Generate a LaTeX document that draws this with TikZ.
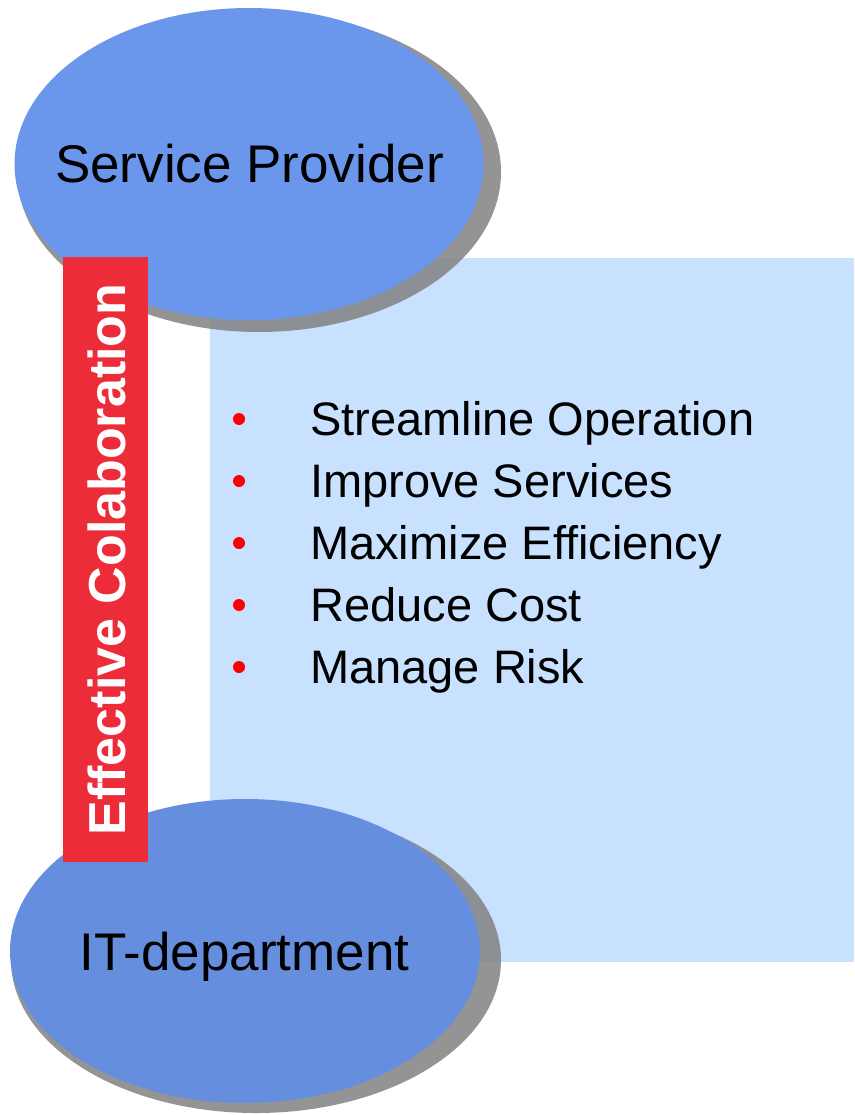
\documentclass[tikz,border=0pt]{standalone}
\usepackage{fontspec}
\setmainfont{Liberation Sans}
\usetikzlibrary{shapes.geometric}
\definecolor{ovalblue}{RGB}{106,151,236}
\definecolor{ovalblueb}{RGB}{102,142,222}
\definecolor{panelblue}{RGB}{199,225,255}
\definecolor{barred}{RGB}{237,44,58}
\definecolor{shadowgrey}{RGB}{130,130,130}
\begin{document}
\begin{tikzpicture}[x=1pt,y=-1pt,
  oval/.style={ellipse, inner sep=0pt, minimum width=470pt, text=black},
  ovalshadow/.style={fill=shadowgrey, opacity=0.85},
  ovaltext/.style={anchor=base, inner sep=0pt, font=\fontsize{53}{60}\selectfont, text=black},
  listitem/.style={anchor=base west, inner sep=0pt, font=\fontsize{47}{54}\selectfont, text=black},
  bulletdot/.style={circle, fill=red, inner sep=0pt, minimum size=12pt},
  bartext/.style={rotate=90, text=white, font=\fontsize{52}{60}\selectfont\bfseries, inner sep=0pt}
]
\useasboundingbox (0,0) rectangle (854,1115);
\fill[white] (0,0) rectangle (854,1115);

% light blue panel
\fill[panelblue] (210,258) rectangle (854,962);

% top ellipse
\fill[ovalshadow] (259,172) ellipse [x radius=242, y radius=160];
\node[oval, fill=ovalblue, minimum width=469pt, minimum height=312pt] (sp) at (249,164) {};
\node[ovaltext] (sptext) at (249.5,183) {Service Provider};

% bottom ellipse
\fill[ovalshadow] (256,960) ellipse [x radius=245, y radius=153];
\node[oval, fill=ovalblueb, minimum width=470pt, minimum height=304pt] (it) at (245,951) {};
\node[ovaltext] (ittext) at (244.5,970) {IT-department};

% red bar
\fill[barred] (63,257) rectangle (148,862);
\node[bartext, anchor=base] (ec) at (125,559.5) {Effective Colaboration};

% bullet list
\foreach \t/\y [count=\i] in {Streamline Operation/435, Improve Services/497, Maximize Efficiency/559, Reduce Cost/621, Manage Risk/683}{
  \node[bulletdot] (b\i) at (239,\y-16) {};
  \node[listitem] (l\i) at (310,\y) {\t};
}
\end{tikzpicture}
\end{document}
